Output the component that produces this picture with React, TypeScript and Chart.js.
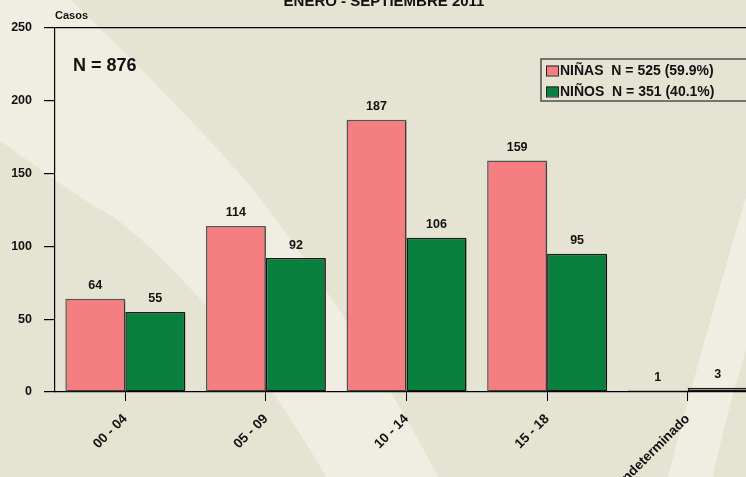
import { useEffect, useRef } from 'react';
import { Chart, registerables } from 'chart.js';

Chart.register(...registerables);

const TITLE = 'ENERO - SEPTIEMBRE 2011';
const Y_LABEL = 'Casos';
const categories = ['00 - 04', '05 - 09', '10 - 14', '15 - 18', 'Indeterminado'];
const ninas = [64, 114, 187, 159, 1];
const ninos = [55, 92, 106, 95, 3];
const seriesLabels = ['NIÑAS', 'NIÑOS'];
const Y_MIN = 0;
const Y_MAX = 250;
const Y_STEP = 50;

const FONT = 'Arial, "Liberation Sans", sans-serif';
const PINK = '#f47e80';
const GREEN = '#0a803f';
const GRAY = '#8c8c8c';
const BG_DARK = '#e5e3d1';
const BG_LIGHT = '#f0eee2';
const TEXT = '#111111';
const OFFSET_Y = 20;
const CANVAS_W = 780;
const CANVAS_H = 500;

const sum = (a: number[]) => a.reduce((s, v) => s + v, 0);

const backgroundPlugin = {
  id: 'bgDecor',
  beforeDraw(chart: any) {
    const ctx = chart.ctx as CanvasRenderingContext2D;
    const o = OFFSET_Y;
    ctx.save();
    ctx.fillStyle = BG_DARK;
    ctx.fillRect(0, 0, chart.width, chart.height);
    ctx.fillStyle = BG_LIGHT;
    // big diagonal band
    ctx.beginPath();
    ctx.moveTo(-5, -o - 5);
    ctx.lineTo(52, -o - 5);
    ctx.lineTo(71, 0 + o);
    ctx.quadraticCurveTo(215, 140 + o, 267, 207 + o);
    ctx.quadraticCurveTo(380, 360 + o, 450, 500 + o);
    ctx.lineTo(340, 500 + o);
    ctx.quadraticCurveTo(270, 380 + o, 219, 320 + o);
    ctx.quadraticCurveTo(130, 220 + o, 95, 207 + o);
    ctx.quadraticCurveTo(40, 170 + o, -5, 137 + o);
    ctx.closePath();
    ctx.fill();
    // right narrow stripe
    ctx.beginPath();
    ctx.moveTo(662, 500 + o);
    ctx.quadraticCurveTo(695, 370 + o, 746, 197 + o);
    ctx.lineTo(800, 60 + o);
    ctx.lineTo(800, 200 + o);
    ctx.quadraticCurveTo(735, 360 + o, 708, 500 + o);
    ctx.closePath();
    ctx.fill();
    ctx.restore();
  },
};

const textPlugin = {
  id: 'texts',
  beforeDatasetsDraw(chart: any) {
    const ctx = chart.ctx as CanvasRenderingContext2D;
    ctx.save();
    ctx.shadowColor = 'rgba(0,0,0,0.3)';
    ctx.shadowOffsetX = 1.5;
    ctx.shadowOffsetY = 1.5;
    ctx.shadowBlur = 0;
  },
  afterDatasetsDraw(chart: any) {
    const ctx = chart.ctx as CanvasRenderingContext2D;
    ctx.restore();
    ctx.save();
    ctx.fillStyle = TEXT;
    ctx.font = `bold 12.5px ${FONT}`;
    ctx.textAlign = 'center';
    ctx.textBaseline = 'middle';
    chart.data.datasets.forEach((ds: any, i: number) => {
      const meta = chart.getDatasetMeta(i);
      meta.data.forEach((el: any, j: number) => {
        ctx.fillText(String(ds.data[j]), el.x, el.y - 13);
      });
    });
    ctx.restore();
  },
  afterDraw(chart: any) {
    const ctx = chart.ctx as CanvasRenderingContext2D;
    const o = OFFSET_Y;
    ctx.save();
    ctx.fillStyle = TEXT;
    // title
    ctx.font = `bold 15px ${FONT}`;
    ctx.textAlign = 'center';
    ctx.textBaseline = 'alphabetic';
    ctx.fillText(TITLE, 384, 6 + o);
    // axis caption
    ctx.font = `bold 11px ${FONT}`;
    ctx.textAlign = 'left';
    ctx.textBaseline = 'middle';
    ctx.fillText(Y_LABEL, chart.chartArea.left, 16 + o);
    // total
    const total = sum(ninas) + sum(ninos);
    ctx.font = `bold 18px ${FONT}`;
    ctx.textBaseline = 'alphabetic';
    ctx.fillText(`N = ${total}`, 73, 71 + o);
    // legend
    const lx = 541;
    const ly = 59 + o;
    ctx.strokeStyle = '#505050';
    ctx.lineWidth = 1.5;
    ctx.strokeRect(lx, ly, 240, 42);
    const series = [ninas, ninos];
    ctx.font = `bold 14px ${FONT}`;
    ctx.textBaseline = 'middle';
    chart.data.datasets.forEach((ds: any, i: number) => {
      const cy = ly + 11.5 + i * 21;
      const col = Array.isArray(ds.backgroundColor) ? ds.backgroundColor[0] : ds.backgroundColor;
      ctx.fillStyle = col;
      ctx.fillRect(546, cy - 5, 12, 10);
      ctx.strokeStyle = '#222';
      ctx.lineWidth = 1;
      ctx.strokeRect(546.5, cy - 4.5, 12, 10);
      const n = sum(series[i]);
      const pct = ((n / total) * 100).toFixed(1);
      ctx.fillStyle = TEXT;
      ctx.fillText(`${ds.label}  N = ${n} (${pct}%)`, 560, cy + 0.5);
    });
    ctx.restore();
  },
};

export default function App() {
  const ref = useRef<HTMLCanvasElement | null>(null);
  useEffect(() => {
    if (!ref.current) return;
    const last = categories.length - 1;
    const chart = new Chart(ref.current, {
      type: 'bar',
      data: {
        labels: categories,
        datasets: [
          {
            label: seriesLabels[0],
            data: ninas,
            backgroundColor: categories.map((_, i) => (i === last ? GRAY : PINK)),
            borderColor: categories.map((_, i) => (i === last ? '#1a1a1a' : '#555555')),
            borderWidth: 1.5,
            borderSkipped: false,
          },
          {
            label: seriesLabels[1],
            data: ninos,
            backgroundColor: categories.map((_, i) => (i === last ? GRAY : GREEN)),
            borderColor: '#1a1a1a',
            borderWidth: 1.5,
            borderSkipped: false,
          },
        ],
      },
      options: {
        responsive: false,
        animation: false,
        maintainAspectRatio: false,
        layout: { padding: { top: 48, right: 22, left: 0, bottom: 0 } },
        datasets: { bar: { categoryPercentage: 0.853, barPercentage: 1 } },
        plugins: {
          legend: { display: false },
          title: { display: false },
          tooltip: { enabled: false },
        },
        scales: {
          x: {
            offset: true,
            grid: {
              display: true,
              drawOnChartArea: false,
              offset: false,
              tickLength: 9,
              tickColor: '#000',
              color: '#000',
            },
            border: { display: true, color: '#000', width: 1.2 },
            ticks: {
              autoSkip: false,
              minRotation: 45,
              maxRotation: 45,
              padding: 10,
              color: TEXT,
              font: { family: FONT, size: 13.5, weight: 'bold' },
            },
            afterFit(scale: any) {
              scale.height = 88;
            },
          },
          y: {
            min: Y_MIN,
            max: Y_MAX,
            ticks: {
              stepSize: Y_STEP,
              padding: 12,
              color: TEXT,
              font: { family: FONT, size: 12.5, weight: 'bold' },
            },
            grid: {
              display: true,
              drawOnChartArea: true,
              tickLength: 11,
              tickColor: '#000',
              color: (c: any) => (c.tick && c.tick.value === Y_MAX ? '#000' : 'rgba(0,0,0,0)'),
              lineWidth: 1.2,
            },
            border: { display: true, color: '#000', width: 1.2 },
            afterFit(scale: any) {
              scale.width = 55;
            },
          },
        },
      },
      plugins: [backgroundPlugin, textPlugin],
    } as any);
    return () => chart.destroy();
  }, []);
  return (
    <div style={{ position: 'fixed', left: 0, top: 0, width: 746, height: 477, overflow: 'hidden' }}>
      <canvas
        ref={ref}
        width={CANVAS_W}
        height={CANVAS_H}
        style={{ position: 'absolute', left: 0, top: -OFFSET_Y, width: CANVAS_W, height: CANVAS_H }}
      />
    </div>
  );
}
